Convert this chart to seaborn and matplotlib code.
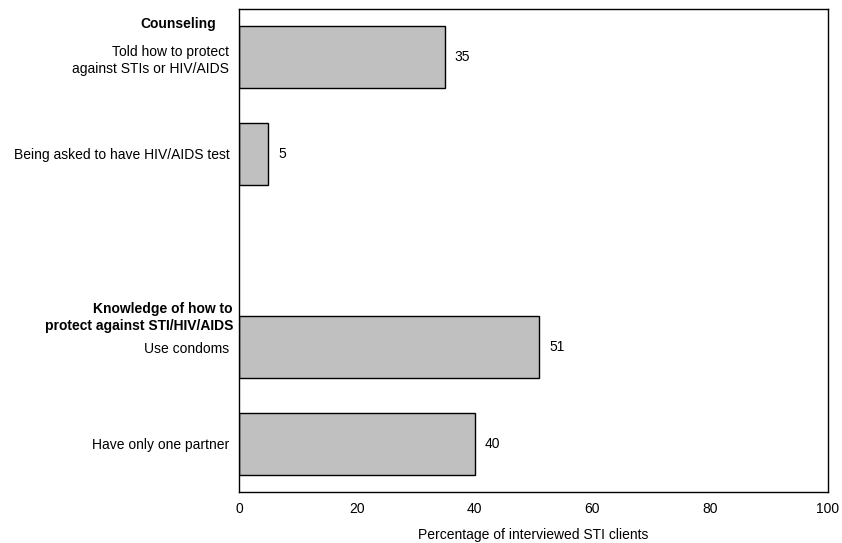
import matplotlib
matplotlib.use("Agg")
import matplotlib.pyplot as plt
import seaborn as sns
import pandas as pd

# Survey results: percentage of interviewed STI clients
items = [
    "Told how to protect\nagainst STIs or HIV/AIDS",
    "Being asked to have HIV/AIDS test",
    "Use condoms",
    "Have only one partner",
]
values = [35, 5, 51, 40]
group_headers = ["Counseling", "Knowledge of how to\nprotect against STI/HIV/AIDS"]
x_ticks = [0, 20, 40, 60, 80, 100]
x_label = "Percentage of interviewed STI clients"

# Blank slot separates the two groups
order = [items[0], items[1], " ", items[2], items[3]]

sns.set_theme(style="white")
plt.rcParams["font.family"] = ["Liberation Sans", "DejaVu Sans"]
plt.rcParams["text.color"] = "black"
plt.rcParams["xtick.color"] = "black"
plt.rcParams["ytick.color"] = "black"
plt.rcParams["axes.labelcolor"] = "black"

FS = 10

df = pd.DataFrame({"item": items, "value": values})

fig = plt.figure(figsize=(8.42, 5.43), dpi=100)
ax = fig.add_axes([239 / 842, 1 - 492 / 543, (828 - 239) / 842, (492 - 9) / 543])

sns.barplot(data=df, x="value", y="item", order=order, orient="h",
            color="#c0c0c0", edgecolor="black", linewidth=1.0,
            width=0.64, saturation=1, ax=ax)

for c in ax.containers:
    ax.bar_label(c, fmt="%g", padding=7, fontsize=FS, color="black")

ax.set_xlim(0, 100)
ax.set_ylim(4.5, -0.5)
ax.set_xticks(x_ticks)
ax.set_xticklabels([str(t) for t in x_ticks], fontsize=FS)
ax.tick_params(axis="x", length=0, pad=7)
ax.tick_params(axis="y", length=0, pad=7)
ax.set_yticks(range(len(order)))
ax.set_yticklabels(order, fontsize=FS, ha="right", multialignment="right",
                   linespacing=1.25)
ax.set_ylabel("")
ax.set_xlabel(x_label, fontsize=FS, labelpad=8.5)

for s in ax.spines.values():
    s.set_color("black")
    s.set_linewidth(1.0)

# Bold group headings placed above the first item of each group
fig.text(216 / 842, 1 - 24 / 543, group_headers[0], ha="right", va="center",
         fontsize=FS, fontweight="bold")
fig.text(233 / 842, 1 - 317.5 / 543, group_headers[1], ha="right", va="center",
         multialignment="right", fontsize=FS, fontweight="bold", linespacing=1.2)

fig.savefig("out.png", dpi=100)
